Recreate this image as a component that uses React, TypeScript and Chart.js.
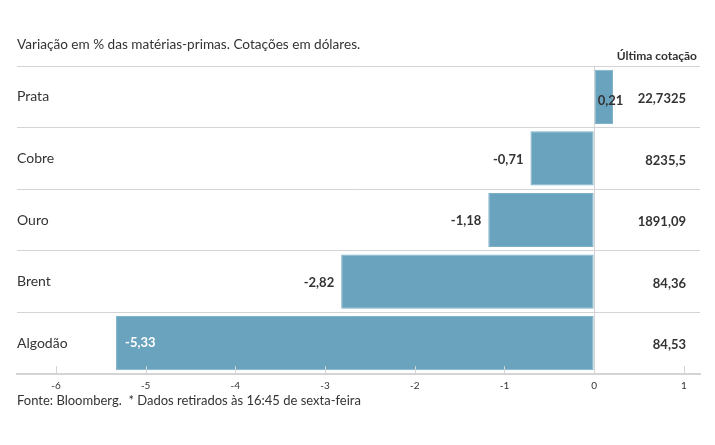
import React, { useEffect, useRef } from "react";
import { Chart, registerables } from "chart.js";

Chart.register(...registerables);

const categories = ["Prata", "Cobre", "Ouro", "Brent", "Algodão"];
const changes = [0.21, -0.71, -1.18, -2.82, -5.33];
const lastQuotes = ["22,7325", "8235,5", "1891,09", "84,36", "84,53"];
const xTicks = [-6, -5, -4, -3, -2, -1, 0, 1];

const titleText = "Variação em % das matérias-primas. Cotações em dólares.";
const footerText = "Fonte: Bloomberg.  * Dados retirados às 16:45 de sexta-feira";
const quoteHeader = "Última cotação";

const FONT = "Lato, 'Noto Sans', sans-serif";
const TEXT = "#333333";
const GRID = "#d4d4d4";
const BAR = "#6aa3be";

const fmt = (v: number) => v.toFixed(2).replace(".", ",");

const overlayPlugin = {
  id: "overlay",
  afterDatasetsDraw(chart: any) {
    const { ctx, chartArea } = chart;
    const xs = chart.scales.x;
    const ys = chart.scales.y;
    ctx.save();
    // upward tick marks on the x axis
    ctx.strokeStyle = GRID;
    ctx.lineWidth = 1;
    xTicks.forEach((v) => {
      const px = Math.round(xs.getPixelForValue(v)) + 0.5;
      ctx.beginPath();
      ctx.moveTo(px, chartArea.bottom - 8);
      ctx.lineTo(px, chartArea.bottom);
      ctx.stroke();
    });
    // bar value labels
    const meta = chart.getDatasetMeta(0);
    ctx.font = `bold 13px ${FONT}`;
    ctx.textBaseline = "middle";
    meta.data.forEach((bar: any, i: number) => {
      const v = changes[i];
      const label = fmt(v);
      const w = ctx.measureText(label).width;
      const cy = ys.getPixelForValue(i);
      if (v >= 0) {
        ctx.fillStyle = TEXT;
        ctx.textAlign = "left";
        ctx.fillText(label, bar.base + 3, cy + 4);
      } else if (bar.x - w - 8 < chartArea.left + 80) {
        ctx.fillStyle = "#ffffff";
        ctx.textAlign = "left";
        ctx.fillText(label, bar.x + 9, cy);
      } else {
        ctx.fillStyle = TEXT;
        ctx.textAlign = "right";
        ctx.fillText(label, bar.x - 7, cy + 1);
      }
    });
    // last quote column
    ctx.fillStyle = TEXT;
    ctx.textAlign = "right";
    lastQuotes.forEach((q, i) => {
      ctx.fillText(q, chartArea.right - 14, ys.getPixelForValue(i) + 2);
    });
    ctx.font = `bold 12px ${FONT}`;
    ctx.fillText(quoteHeader, chartArea.right - 3, chartArea.top - 10);
    // title and footer
    ctx.textAlign = "left";
    ctx.font = `13.6px ${FONT}`;
    ctx.fillText(titleText, chartArea.left, 45);
    ctx.font = `13px ${FONT}`;
    ctx.fillText(footerText, chartArea.left, 401);
    ctx.restore();
  },
};

export default function App() {
  const ref = useRef<HTMLCanvasElement | null>(null);
  useEffect(() => {
    if (!ref.current) return;
    const chart = new Chart(ref.current, {
      type: "bar",
      data: {
        labels: categories,
        datasets: [
          {
            data: changes,
            backgroundColor: BAR,
            borderColor: "#7fb1c9",
            borderWidth: 1,
            borderSkipped: false,
            categoryPercentage: 1,
            barPercentage: 0.88,
          },
        ],
      },
      options: {
        indexAxis: "y",
        animation: false,
        responsive: false,
        layout: { padding: { left: 17, right: 15, top: 66, bottom: 51 } },
        plugins: {
          legend: { display: false },
          tooltip: { enabled: false },
          title: { display: false },
        },
        scales: {
          x: {
            type: "linear",
            min: -6.434,
            max: 1.18,
            afterBuildTicks: (s: any) => {
              s.ticks = xTicks.map((v) => ({ value: v }));
            },
            afterFit: (s: any) => {
              s.height = 20;
            },
            grid: {
              drawTicks: false,
              color: (c: any) => (c.tick && c.tick.value === 0 ? GRID : "rgba(0,0,0,0)"),
              lineWidth: 1,
            },
            border: { display: true, color: GRID, width: 2 },
            ticks: {
              padding: 6,
              color: TEXT,
              font: { family: FONT, size: 10 },
              callback: (v: any) => String(v),
            },
          },
          y: {
            type: "category",
            offset: true,
            afterFit: (s: any) => {
              s.width = 0;
            },
            grid: { offset: true, drawTicks: false, color: GRID, lineWidth: 1 },
            border: { display: false },
            ticks: {
              mirror: true,
              padding: 0,
              color: TEXT,
              font: { family: FONT, size: 14 },
            },
          },
        },
      },
      plugins: [overlayPlugin],
    });
    return () => chart.destroy();
  }, []);
  return (
    <div style={{ position: "absolute", left: 0, top: 0, width: 715, height: 445, background: "#fff" }}>
      <canvas ref={ref} width={715} height={445} style={{ display: "block" }} />
    </div>
  );
}
